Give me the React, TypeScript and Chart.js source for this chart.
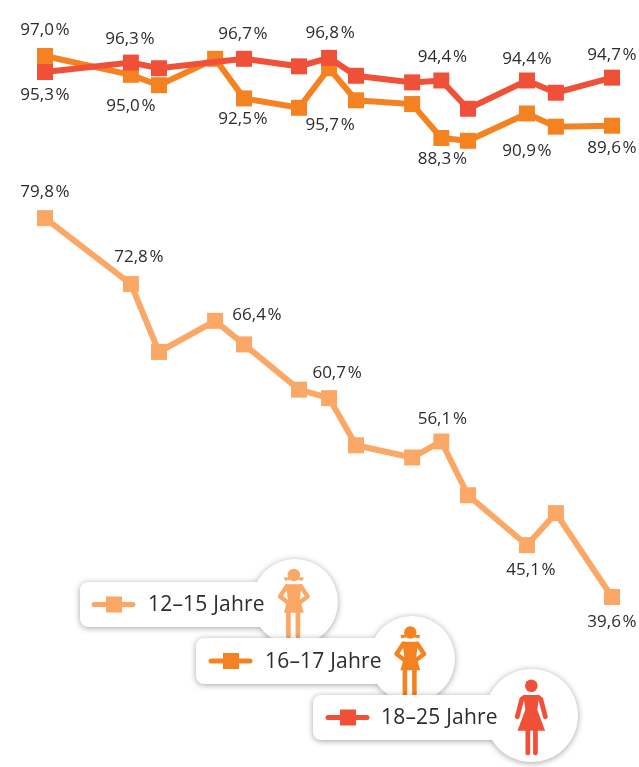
import React, { useEffect, useRef } from "react";
import { Chart, registerables } from "chart.js";

Chart.register(...registerables);

// Survey waves on a time axis (surveys are not evenly spaced)
const waves = [0, 3.03, 4.02, 6, 7.02, 8.96, 10.02, 10.97, 12.95, 13.98, 14.92, 17, 18.02, 20];
const girls1215 = [79.8, 72.8, 65.6, 68.9, 66.4, 61.6, 60.7, 55.7, 54.4, 56.1, 50.4, 45.1, 48.5, 39.6];
const girls1617 = [97.0, 95.0, 93.9, 96.7, 92.5, 91.5, 95.7, 92.3, 91.9, 88.3, 88.0, 90.9, 89.5, 89.6];
const women1825 = [95.3, 96.3, 95.7, null, 96.7, 95.9, 96.8, 94.9, 94.2, 94.4, 91.4, 94.4, 93.1, 94.7];
const seriesNames = ["12\u201315 Jahre", "16\u201317 Jahre", "18\u201325 Jahre"];

const LIGHT = "#FBA765";
const ORANGE = "#F58220";
const RED = "#F15038";
const INK = "#2B2B30";
const FONT = '"Open Sans", sans-serif';

// [wave index, dx, dy] of the printed value labels, per series
const placeLight = [[0, 0, -26], [1, 8, -27], [4, 13, -29], [6, 8, -25], [9, 1, -22], [11, 4, 25], [13, 0, 25]];
const placeOrange = [[0, 0, -26], [1, 0, 31], [4, -1, 21], [6, 1, 57], [9, 1, 21], [11, 0, 38], [13, 0, 22]];
const placeRed = [[0, 0, 23], [1, -1, -23], [4, -1, -25], [6, 1, -25], [9, 1, -23], [11, 0, -21], [13, 0, -23]];

const fmt = (v: number) => v.toFixed(1).replace(".", ",") + "\u200A%";

function girl(ctx: CanvasRenderingContext2D, x: number, y: number, color: string) {
  ctx.save();
  ctx.translate(x, y);
  ctx.fillStyle = color;
  ctx.strokeStyle = color;
  ctx.beginPath();
  ctx.arc(0, 0, 6.2, 0, Math.PI * 2);
  ctx.fill();
  // pigtails
  ctx.beginPath();
  ctx.moveTo(-4, 2.5); ctx.lineTo(-9.8, 2.2); ctx.lineTo(-9, 5.8); ctx.lineTo(-4, 5);
  ctx.moveTo(4, 2.5); ctx.lineTo(9.8, 2.2); ctx.lineTo(9, 5.8); ctx.lineTo(4, 5);
  ctx.fill();
  // torso and skirt
  ctx.beginPath();
  ctx.moveTo(-8, 9.2); ctx.lineTo(8, 9.2); ctx.lineTo(6, 24); ctx.lineTo(6.8, 27);
  ctx.lineTo(10, 37.8); ctx.lineTo(-10, 37.8); ctx.lineTo(-6.8, 27); ctx.lineTo(-6, 24);
  ctx.closePath();
  ctx.fill();
  // legs
  ctx.fillRect(-7.7, 37, 4.6, 24);
  ctx.fillRect(1.8, 37, 4.6, 24);
  ctx.lineWidth = 4.6;
  ctx.lineCap = "round";
  ctx.beginPath();
  ctx.moveTo(-5.4, 61); ctx.lineTo(-5.4, 61.2);
  ctx.moveTo(4.1, 61); ctx.lineTo(4.1, 61.2);
  ctx.stroke();
  // arms akimbo
  ctx.lineWidth = 4.4;
  ctx.lineJoin = "round";
  ctx.beginPath();
  ctx.moveTo(-7, 11.2); ctx.lineTo(-13.8, 21.5); ctx.lineTo(-6.5, 27);
  ctx.moveTo(7, 11.2); ctx.lineTo(13.8, 21.5); ctx.lineTo(6.5, 27);
  ctx.stroke();
  ctx.restore();
}

function woman(ctx: CanvasRenderingContext2D, x: number, y: number, color: string) {
  ctx.save();
  ctx.translate(x, y);
  ctx.fillStyle = color;
  ctx.strokeStyle = color;
  ctx.beginPath();
  ctx.arc(0, 0, 6.3, 0, Math.PI * 2);
  ctx.fill();
  ctx.beginPath();
  ctx.moveTo(-8, 9.3); ctx.lineTo(8, 9.3); ctx.lineTo(6, 24);
  ctx.lineTo(13.8, 45); ctx.lineTo(-13.8, 45); ctx.lineTo(-6, 24);
  ctx.closePath();
  ctx.fill();
  ctx.lineCap = "round";
  ctx.lineJoin = "round";
  ctx.lineWidth = 4.8;
  ctx.beginPath();
  ctx.moveTo(-7, 11.7); ctx.lineTo(-9.5, 13.5); ctx.lineTo(-14, 31);
  ctx.moveTo(7, 11.7); ctx.lineTo(9.5, 13.5); ctx.lineTo(14, 31);
  ctx.stroke();
  ctx.fillRect(-5.8, 44, 4.7, 23);
  ctx.fillRect(1.8, 44, 4.7, 23);
  ctx.lineWidth = 4.7;
  ctx.beginPath();
  ctx.moveTo(-3.45, 67); ctx.lineTo(-3.45, 67.2);
  ctx.moveTo(4.15, 67); ctx.lineTo(4.15, 67.2);
  ctx.stroke();
  ctx.restore();
}

const legendBoxes = [
  { left: 80, top: 582, h: 45, cx: 295, cy: 602, r: 43, keyX: 92, text: 148, color: LIGHT, fig: girl, fx: 293.8, fy: 575 },
  { left: 196, top: 638, h: 46, cx: 412, cy: 659, r: 43, keyX: 209, text: 265, color: ORANGE, fig: girl, fx: 410.3, fy: 632.5 },
  { left: 313, top: 695, h: 45, cx: 531.5, cy: 715.5, r: 46.5, keyX: 326, text: 381, color: RED, fig: woman, fx: 531.3, fy: 685.7 },
];

const overlay = {
  id: "overlay",
  afterDraw(chart: any) {
    const ctx: CanvasRenderingContext2D = chart.ctx;
    const xs = chart.scales.x;
    const ys = chart.scales.y;

    ctx.save();
    ctx.font = `17px ${FONT}`;
    ctx.fillStyle = INK;
    ctx.textAlign = "center";
    ctx.textBaseline = "middle";
    const sets: [(number | null)[], number[][]][] = [
      [girls1215, placeLight],
      [girls1617, placeOrange],
      [women1825, placeRed],
    ];
    for (const [vals, places] of sets) {
      for (const [i, dx, dy] of places) {
        const v = vals[i] as number;
        ctx.fillText(fmt(v), xs.getPixelForValue(waves[i]) + dx, ys.getPixelForValue(v) + dy);
      }
    }
    ctx.restore();

    legendBoxes.forEach((b, n) => {
      ctx.save();
      ctx.shadowColor = "rgba(0,0,0,0.36)";
      ctx.shadowBlur = 6;
      ctx.shadowOffsetY = 1;
      ctx.fillStyle = "#FFFFFF";
      ctx.beginPath();
      ctx.roundRect(b.left, b.top, b.cx - b.left, b.h, 8);
      ctx.moveTo(b.cx + b.r, b.cy);
      ctx.arc(b.cx, b.cy, b.r, 0, Math.PI * 2);
      ctx.fill();
      ctx.restore();

      const my = b.top + b.h / 2;
      ctx.save();
      ctx.strokeStyle = b.color;
      ctx.fillStyle = b.color;
      ctx.lineWidth = 5;
      ctx.lineCap = "round";
      ctx.beginPath();
      ctx.moveTo(b.keyX + 2, my);
      ctx.lineTo(b.keyX + 41, my);
      ctx.stroke();
      ctx.fillRect(b.keyX + 14, my - 8, 16, 16);
      ctx.fillStyle = INK;
      ctx.font = `21px ${FONT}`;
      (ctx as any).letterSpacing = "0.2px";
      ctx.textAlign = "left";
      ctx.textBaseline = "middle";
      ctx.fillText(seriesNames[n], b.text, my + 1);
      ctx.restore();

      b.fig(ctx, b.fx, b.fy, b.color);
    });
  },
};

export default function App() {
  const ref = useRef<HTMLCanvasElement>(null);

  useEffect(() => {
    document.body.style.margin = "0";
    const toPoints = (vals: (number | null)[]) => waves.map((x, i) => ({ x, y: vals[i] }));
    const style = (color: string) => ({
      borderColor: color,
      backgroundColor: color,
      pointBackgroundColor: color,
      pointBorderWidth: 0,
      borderWidth: 6,
      pointStyle: "rect",
      pointRadius: 11.3,
      pointHoverRadius: 11.3,
      tension: 0,
      spanGaps: true,
      clip: false as const,
    });
    const chart = new Chart(ref.current!, {
      type: "line",
      data: {
        datasets: [
          { label: seriesNames[2], data: toPoints(women1825), ...style(RED) },
          { label: seriesNames[1], data: toPoints(girls1617), ...style(ORANGE) },
          { label: seriesNames[0], data: toPoints(girls1215), ...style(LIGHT) },
        ] as any,
      },
      options: {
        responsive: false,
        animation: false,
        layout: { padding: { left: 45, right: 27, top: 27.7, bottom: 79.5 } },
        plugins: { legend: { display: false }, tooltip: { enabled: false } },
        scales: {
          x: { type: "linear", min: 0, max: 20, display: false },
          y: { type: "linear", min: 30, max: 100, display: false },
        },
      },
      plugins: [overlay],
    });
    return () => chart.destroy();
  }, []);

  return <canvas ref={ref} width={639} height={767} style={{ display: "block" }} />;
}
